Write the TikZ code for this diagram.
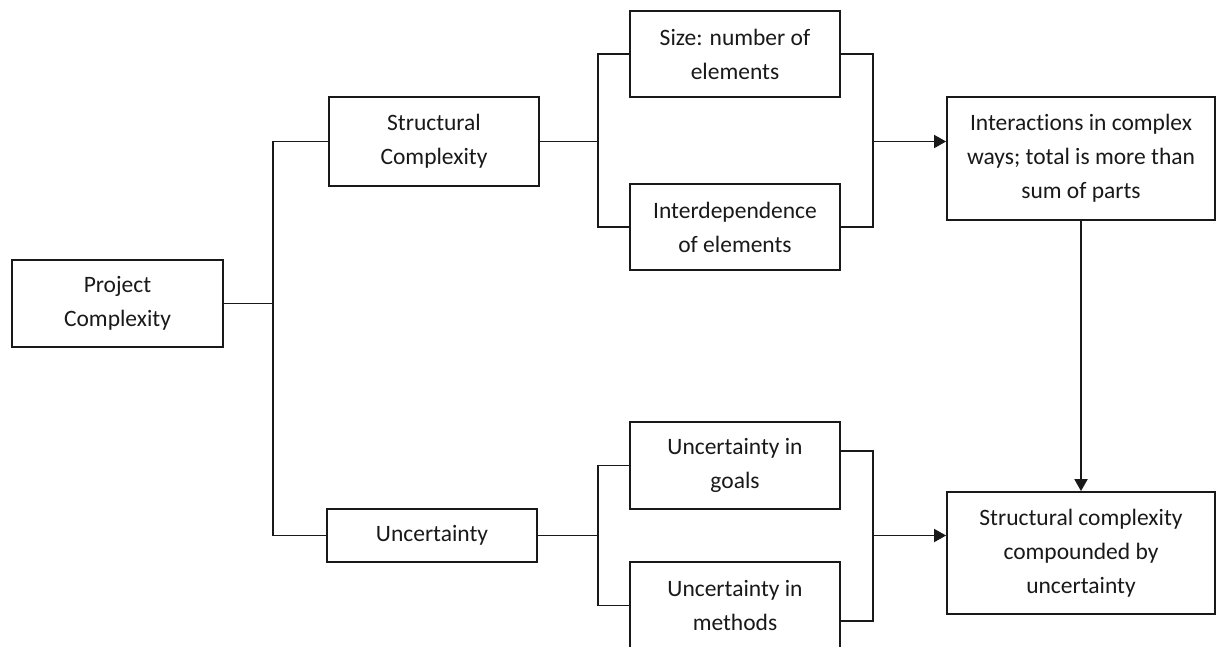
\documentclass[tikz,border=0pt]{standalone}
\usepackage{fontspec}
\setmainfont{Carlito}[Ligatures=NoCommon]
\usetikzlibrary{arrows.meta}
\definecolor{ink}{RGB}{25,25,25}
\tikzset{
  box/.style={draw=ink, line width=1.8pt, align=center, inner sep=0pt,
    text=ink, font=\fontsize{23.5}{34}\selectfont},
  conn/.style={draw=ink, line width=1.8pt},
  arr/.style={conn, -{Triangle[length=12pt,width=13pt]}}
}
\begin{document}
\begin{tikzpicture}[x=1pt,y=-1pt]
\clip (0,0) rectangle (1216,646);
\fill[white] (0,0) rectangle (1216,646);

% boxes
\node[box, minimum width=211pt, minimum height=87pt] (pc) at (117.5,303.5) {Project\\Complexity};
\node[box, minimum width=210pt, minimum height=89pt] (sc) at (434,141.5) {Structural\\Complexity};
\node[box, minimum width=210pt, minimum height=53pt] (unc) at (432,535.5) {Uncertainty};
\node[box, minimum width=210pt, minimum height=86pt] (size) at (735,54) {Size: number of\\elements};
\node[box, minimum width=210pt, minimum height=86pt] (inter) at (735,227) {Interdependence\\of elements};
\node[box, minimum width=210pt, minimum height=87pt] (goals) at (735,465.5) {Uncertainty in\\goals};
\node[box, minimum width=210pt, minimum height=87pt] (methods) at (735,605.5) {Uncertainty in\\methods};
\node[box, minimum width=268pt, minimum height=123pt] (interact) at (1081,158.5) {Interactions in complex\\ways; total is more than\\sum of parts};
\node[box, minimum width=268pt, minimum height=122pt] (final) at (1081,553) {Structural complexity\\compounded by\\uncertainty};

% junction columns
\coordinate (jA) at (273,0);
\coordinate (jB) at (598,0);
\coordinate (jC) at (873,0);

% project complexity splits into its two branches
\draw[conn] (pc.east) -- (pc.east -| jA);
\draw[conn] (sc.west) -- (sc.west -| jA) -- (unc.west -| jA) -- (unc.west);

% structural branch
\draw[conn] (sc.east) -- (sc.east -| jB);
\draw[conn] (size.west) -- (size.west -| jB) -- (inter.west -| jB) -- (inter.west);
\draw[conn] (size.east) -- (size.east -| jC) -- (inter.east -| jC) -- (inter.east);
\draw[arr] (sc.east -| jC) -- (sc.east -| interact.west);

% uncertainty branch
\coordinate (gR) at ([yshift=14.5pt]goals.east);
\coordinate (mR) at ([yshift=-15.5pt]methods.east);
\draw[conn] (unc.east) -- (unc.east -| jB);
\draw[conn] (goals.west) -- (goals.west -| jB) -- (methods.west -| jB) -- (methods.west);
\draw[conn] (gR) -- (gR -| jC) -- (mR -| jC) -- (mR);
\draw[arr] (unc.east -| jC) -- (unc.east -| final.west);

% outcome chain
\draw[arr] (interact.south) -- (final.north);
\end{tikzpicture}
\end{document}
